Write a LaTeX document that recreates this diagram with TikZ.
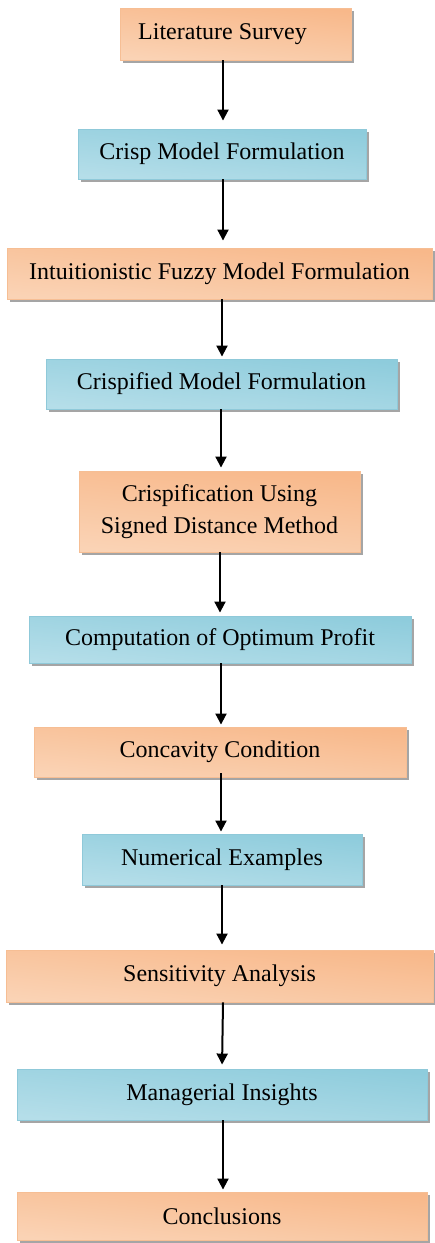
\documentclass[tikz,border=0pt]{standalone}
\usepackage{fontspec}
\setmainfont{Liberation Serif}
\usetikzlibrary{arrows.meta,shadows}
\definecolor{orD}{HTML}{F8B88A}
\definecolor{orL}{HTML}{FDEBDD}
\definecolor{orM}{HTML}{FAD3B5}
\definecolor{orB}{HTML}{F6BE94}
\definecolor{blD}{HTML}{8ECCDC}
\definecolor{blL}{HTML}{DEF0F6}
\definecolor{blM}{HTML}{B5DEE9}
\definecolor{blB}{HTML}{8FC9D9}
\tikzset{
  x=1pt, y=-1pt,
  boxbase/.style={rectangle, inner sep=0pt, align=center,
    font=\fontsize{24}{32}\selectfont, line width=0.9pt,
    drop shadow={shadow xshift=2.5pt, shadow yshift=-2.5pt, fill=black!50, opacity=0.7}},
  obox/.style={boxbase, draw=orB, top color=orD, middle color=orL, bottom color=orM, shading angle=-6},
  bbox/.style={boxbase, draw=blB, top color=blD, middle color=blL, bottom color=blM, shading angle=-6},
  arr/.style={line width=2pt, -{Triangle[width=11pt,length=11pt]}}
}
\begin{document}
\begin{tikzpicture}
\useasboundingbox (0,0) rectangle (434,1243);
\fill[white] (0,0) rectangle (434,1243);
\node[obox, minimum width=231pt, minimum height=52pt] (n1) at (235.5,34) {\hspace*{-26pt}Literature Survey};
\node[bbox, minimum width=288pt, minimum height=50pt] (n2) at (222,154) {Crisp Model Formulation};
\node[obox, minimum width=425pt, minimum height=51pt] (n3) at (219.5,273.5) {Intuitionistic Fuzzy Model Formulation};
\node[bbox, minimum width=351pt, minimum height=50pt] (n4) at (221.5,384) {Crispified Model Formulation};
\node[obox, minimum width=281pt, minimum height=81pt] (n5) at (219.5,511.5) {Crispification Using\\Signed Distance Method};
\node[bbox, minimum width=382pt, minimum height=47pt] (n6) at (220,639.5) {Computation of Optimum Profit};
\node[obox, minimum width=372pt, minimum height=50pt] (n7) at (220,752) {Concavity Condition};
\node[bbox, minimum width=280pt, minimum height=51pt] (n8) at (222,859.5) {Numerical Examples};
\node[obox, minimum width=427pt, minimum height=52pt] (n9) at (219.5,976) {Sensitivity Analysis};
\node[bbox, minimum width=410pt, minimum height=51pt] (n10) at (222,1094.5) {Managerial Insights};
\node[obox, minimum width=410pt, minimum height=48pt] (n11) at (222,1216) {Conclusions};
\coordinate (ax) at (222,0);
\draw[arr, shorten >=8pt] ([xshift=1pt]n1.south -| ax) -- ([xshift=1pt]n2.north -| ax);
\draw[arr, shorten >=7pt] ([xshift=1pt]n2.south -| ax) -- ([xshift=1pt]n3.north -| ax);
\draw[arr, shorten >=2pt] (n3.south -| ax) -- (n4.north -| ax);
\draw[arr, shorten >=3pt] ([xshift=-1pt]n4.south -| ax) -- ([xshift=-1pt]n5.north -| ax);
\draw[arr, shorten >=3pt] ([xshift=-2pt]n5.south -| ax) -- ([xshift=-2pt]n6.north -| ax);
\draw[arr, shorten >=2pt] ([xshift=-1pt]n6.south -| ax) -- ([xshift=-1pt]n7.north -| ax);
\draw[arr, shorten >=2pt] ([xshift=-1pt,yshift=4pt]n7.south -| ax) -- ([xshift=-1pt]n8.north -| ax);
\draw[arr, shorten >=5pt] (n8.south -| ax) -- (n9.north -| ax);
\draw[arr, shorten >=4pt] ([xshift=1pt]n9.south -| ax) -- (n10.north -| ax);
\draw[arr, shorten >=2pt] ([xshift=1pt]n10.south -| ax) -- ([xshift=1pt]n11.north -| ax);
\end{tikzpicture}
\end{document}
